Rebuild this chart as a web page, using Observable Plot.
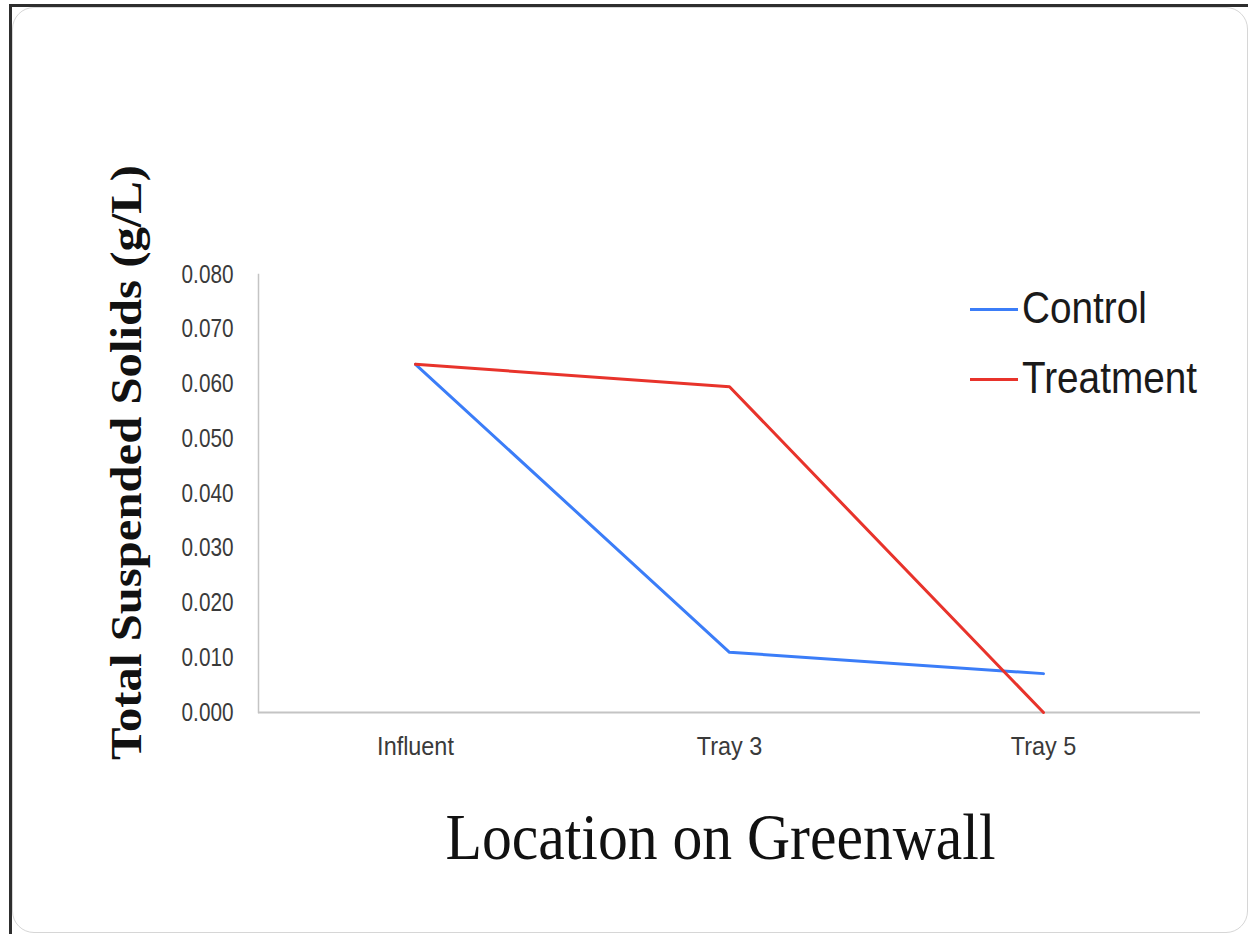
<!DOCTYPE html>
<html>
<head>
<meta charset="utf-8">
<script src="https://cdn.jsdelivr.net/npm/d3@7"></script>
<script src="https://cdn.jsdelivr.net/npm/@observablehq/plot@0.6"></script>
<style>
  html, body { margin: 0; padding: 0; background: #fff; }
  #wrap { position: relative; width: 1248px; height: 934px; overflow: hidden; background: #fff; }
  #edge { position: absolute; left: 9px; top: 4px; width: 1260px; height: 960px;
          border-left: 3px solid #2e2e2e; border-top: 3px solid #2e2e2e; }
  #card { position: absolute; left: 12px; top: 7px; width: 1234px; height: 924px;
          border: 1.5px solid #d6d6d6; border-radius: 22px; }
  #chart { position: absolute; left: 0; top: 0; }
  #legend { position: absolute; left: 970px; top: 283px;
            font-family: "Liberation Sans", Arial, sans-serif;
            font-size: 45px; color: #1a1a1a; }
  #legend .row { display: flex; align-items: center; height: 50px; margin-bottom: 20px; }
  #legend .sw { width: 48px; height: 0; border-top: 3px solid; margin-right: 4px; margin-top: 2px; }
  #legend .name { display: inline-block; transform: scaleX(0.86); transform-origin: left center; }
</style>
</head>
<body>
<div id="wrap">
  <div id="edge"></div>
  <div id="card"></div>
  <div id="chart"></div>
  <div id="legend"></div>
</div>
<script>
// Sampling locations along the greenwall
const locations = ["Influent", "Tray 3", "Tray 5"];

// Total suspended solids (g/L) at each location
const controlTSS = [0.0636, 0.0110, 0.0071];
const treatmentTSS = [0.0636, 0.0595, 0.0000];

const seriesNames = ["Control", "Treatment"];
const seriesColors = ["#3b7df8", "#e8332b"];

const yTicks = [0, 0.01, 0.02, 0.03, 0.04, 0.05, 0.06, 0.07, 0.08];

const yTitle = "Total Suspended Solids (g/L)";
const xTitle = "Location on Greenwall";

const rows = [
  ...locations.map((loc, i) => ({location: loc, value: controlTSS[i], series: seriesNames[0]})),
  ...locations.map((loc, i) => ({location: loc, value: treatmentTSS[i], series: seriesNames[1]}))
];

const tickFont = '"Liberation Sans", Arial, sans-serif';
const serif = '"Liberation Serif", "Times New Roman", "DejaVu Serif", serif';

const chart = Plot.plot({
  width: 1248,
  height: 934,
  marginLeft: 258,
  marginRight: 48,
  marginTop: 274,
  marginBottom: 222,
  style: {background: "transparent", overflow: "visible"},
  x: {type: "point", domain: locations, padding: 0.5},
  y: {domain: [0, 0.08]},
  color: {domain: seriesNames, range: seriesColors},
  marks: [
    Plot.frame({anchor: "left", stroke: "#c4c4c4", strokeWidth: 1.5}),
    Plot.ruleY([0], {stroke: "#c4c4c4", strokeWidth: 2}),
    Plot.axisY({
      ticks: yTicks, tickFormat: d3.format(".3f"), tickSize: 0, tickPadding: 25,
      label: null, fontSize: 25, fontFamily: tickFont, fill: "#3a3a3a"
    }),
    Plot.axisX({
      tickSize: 0, tickPadding: 24, label: null,
      fontSize: 26, fontFamily: tickFont, fill: "#3a3a3a"
    }),
    Plot.line(rows, {x: "location", y: "value", z: "series", stroke: "series", strokeWidth: 3}),
    Plot.text([yTitle], {
      frameAnchor: "left", dx: -132, dy: -31, rotate: -90,
      textAnchor: "middle", lineAnchor: "middle",
      fontSize: 44, fontWeight: "bold", fontFamily: serif, fill: "#111"
    }),
    Plot.text([xTitle], {
      frameAnchor: "bottom", dx: -9, dy: 125, textAnchor: "middle", lineAnchor: "middle",
      fontSize: 66, fontFamily: serif, fill: "#111"
    })
  ]
});

document.getElementById("chart").appendChild(chart);

// Condensed lettering: squeeze text horizontally to its printed width
const svg = d3.select(chart.tagName === "svg" ? chart : chart.querySelector("svg"));
function squeeze(sel, factor) {
  sel.each(function () {
    const w = this.getComputedTextLength();
    d3.select(this).attr("textLength", w * factor).attr("lengthAdjust", "spacingAndGlyphs");
  });
}
const yTickLabels = new Set(yTicks.map(d3.format(".3f")));
squeeze(svg.selectAll("text").filter(function () { return yTickLabels.has(this.textContent); }), 0.83);
squeeze(svg.selectAll("text").filter(function () { return locations.includes(this.textContent); }), 0.9);
svg.selectAll("text").filter(function () { return this.textContent === yTitle; })
  .attr("textLength", 595).attr("lengthAdjust", "spacingAndGlyphs");
svg.selectAll("text").filter(function () { return this.textContent === xTitle; })
  .attr("textLength", 550).attr("lengthAdjust", "spacingAndGlyphs");

// Line-swatch legend
const legend = d3.select("#legend");
seriesNames.forEach((name, i) => {
  const row = legend.append("div").attr("class", "row");
  row.append("div").attr("class", "sw").style("border-top-color", seriesColors[i]);
  row.append("span").attr("class", "name").text(name);
});
</script>
</body>
</html>
